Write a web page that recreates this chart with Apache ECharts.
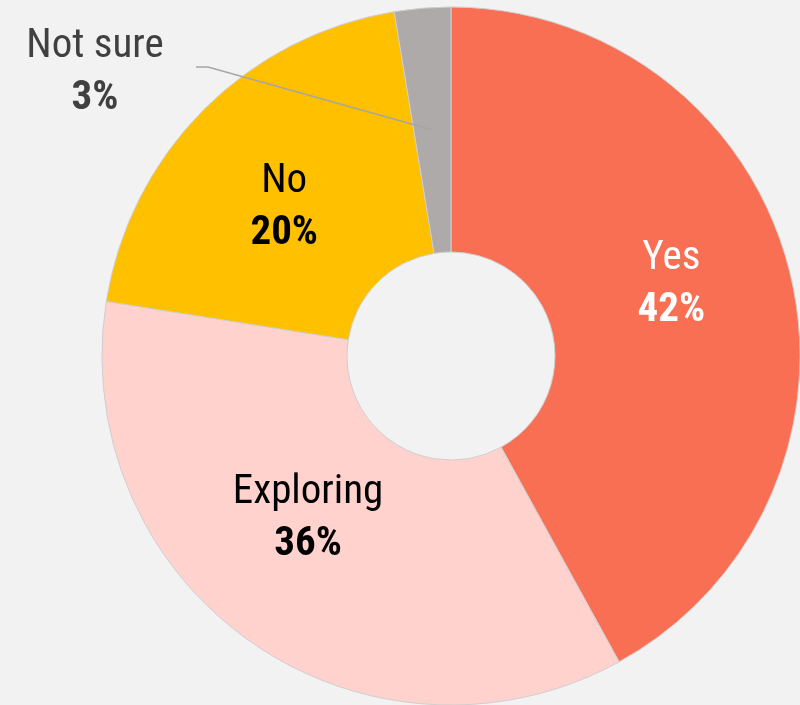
<!DOCTYPE html>
<html><head><meta charset="utf-8">
<style>html,body{margin:0;padding:0;background:#f2f2f2}#c{width:800px;height:705px}</style>
<script src="https://cdn.jsdelivr.net/npm/echarts@6/dist/echarts.min.js"></script>
</head><body><div id="c"></div>
<script>
const categories = ['Yes', 'Exploring', 'No', 'Not sure'];
const values = [42, 35.5, 19.9, 2.6];
const pctLabels = ['42%', '36%', '20%', '3%'];
const colors = ['#F96F53', '#FFD2CD', '#FFC000', '#AEAAAA'];
const labelColors = ['#ffffff', '#000000', '#000000', '#404040'];

const FONT = '"Roboto Condensed", "Liberation Sans Narrow", Roboto, sans-serif';
const chart = echarts.init(document.getElementById('c'), null, {renderer: 'canvas'});
const data = categories.map((n, i) => ({
  name: n, value: values[i],
  itemStyle: {color: colors[i]},
  label: {
    position: 'inside',
    rich: {
      n: {fontFamily: FONT, fontSize: 41, color: labelColors[i], lineHeight: 52},
      p: {fontFamily: FONT, fontSize: 41, fontWeight: 'bold', color: labelColors[i], lineHeight: 52}
    }
  },
  labelLine: {show: false}
}));
chart.setOption({
  backgroundColor: '#f2f2f2',
  animation: false,
  graphic: [{
    type: 'polyline', silent: true, z: 10,
    shape: {points: [[433, 130], [208, 67], [196, 67]]},
    style: {stroke: '#A6A6A6', lineWidth: 1.5, fill: null}
  }],
  series: [{
    type: 'pie',
    center: [451, 356],
    radius: [104, 349],
    startAngle: 90,
    clockwise: true,
    data: data,
    itemStyle: {borderColor: '#D0CECE', borderWidth: 1},
    label: {
      show: true,
      formatter: p => '{n|' + p.name + '}\n{p|' + pctLabels[p.dataIndex] + '}'
    },
    labelLayout: function (params) {
      if (params.dataIndex === 3) {
        return {x: 95, y: 73, align: 'center', verticalAlign: 'middle'};
      }
      if (params.dataIndex === 0) return {dx: -2, dy: -14};
      if (params.dataIndex === 1) return {dx: -11, dy: -25};
      if (params.dataIndex === 2) return {dx: -4, dy: 14};
      return {};
    }
  }]
});
</script></body></html>
